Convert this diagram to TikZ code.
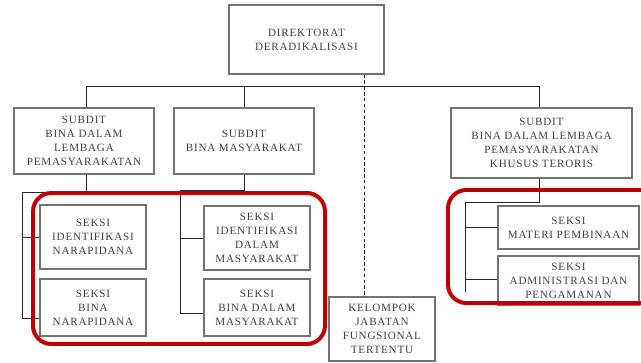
\documentclass[tikz,border=0pt]{standalone}
\usepackage{fontspec}
\setmainfont{Liberation Serif}[LetterSpace=7]
\usetikzlibrary{calc,shadows}

\tikzset{
  unitbox/.style={draw=black!55, line width=0.9pt, fill=white, inner sep=0pt,
    align=center, text=black!75, font=\fontsize{9.5}{12}\selectfont,
    drop shadow={shadow xshift=0.7pt, shadow yshift=-0.7pt, fill=black!45, opacity=0.7}},
  link/.style={draw=black!85, line width=0.7pt},
  hilite/.style={draw=redmark, line width=3.4pt, rounded corners=0.55cm}
}

\begin{document}
\begin{tikzpicture}[x=0.03cm, y=-0.03cm]

% Colors
\definecolor{redmark}{RGB}{192,0,0}

\useasboundingbox (0,0) rectangle (641,362);
\clip (0,0) rectangle (641,362);

% === Top ===
\node[unitbox, minimum width=4.65cm, minimum height=2.07cm] (dir) at (306.5,39.5)
  {DIREKTORAT\\DERADIKALISASI};

% === Subdit ===
\node[unitbox, minimum width=4.2cm, minimum height=1.98cm] (sub1) at (84,141)
  {SUBDIT\\BINA DALAM\\LEMBAGA\\PEMASYARAKATAN};
\node[unitbox, minimum width=4.2cm, minimum height=1.98cm] (sub2) at (244,141)
  {SUBDIT\\BINA MASYARAKAT};
\node[unitbox, minimum width=5.43cm, minimum height=2.1cm] (sub3) at (541.5,143)
  {SUBDIT\\BINA DALAM LEMBAGA\\PEMASYARAKATAN\\KHUSUS TERORIS};

% === Seksi ===
\node[unitbox, minimum width=3.18cm, minimum height=1.92cm] (s1a) at (93,237)
  {SEKSI\\IDENTIFIKASI\\NARAPIDANA};
\node[unitbox, minimum width=3.18cm, minimum height=1.71cm] (s1b) at (93,307.5)
  {SEKSI\\BINA\\NARAPIDANA};
\node[unitbox, minimum width=3.18cm, minimum height=1.92cm] (s2a) at (257,238)
  {SEKSI\\IDENTIFIKASI\\DALAM\\MASYARAKAT};
\node[unitbox, minimum width=3.18cm, minimum height=1.71cm] (s2b) at (257,307.5)
  {SEKSI\\BINA DALAM\\MASYARAKAT};
\node[unitbox, minimum width=4.23cm, minimum height=1.29cm] (s3a) at (568.5,227.5)
  {SEKSI\\MATERI PEMBINAAN};
\node[unitbox, minimum width=4.23cm, minimum height=1.47cm] (s3b) at (568.5,280.5)
  {SEKSI\\ADMINISTRASI DAN\\PENGAMANAN};

% === Kelompok ===
\node[unitbox, minimum width=3.18cm, minimum height=1.92cm] (kel) at (382,329)
  {KELOMPOK\\JABATAN\\FUNGSIONAL\\TERTENTU};

% === Lines ===
\coordinate (busL) at (86,86);
\coordinate (busR) at (539,86);
\draw[link] (busL) -- (busR);
\draw[link] (busL) -- (busL |- sub1.north);
\draw[link] (sub2.north |- busL) -- (sub2.north);
\draw[link] (busR) -- (busR |- sub3.north);

\coordinate (dtop) at (364,0);
\draw[link, densely dashed, line width=0.6pt] (dtop |- dir.south) -- (dtop |- kel.north);

% left column
\coordinate (l1) at (22,192);
\draw[link] (busL |- sub1.south) -- (busL |- l1) -- (l1) -- (22,318);
\draw[link] (l1 |- s1a.west) -- (s1a.west);
\draw[link] (22,318) -- (s1b.west |- 0,318);

% middle column
\coordinate (m1) at (180,190);
\draw[link] (sub2.south) -- (sub2.south |- m1) -- (m1) -- (180,313);
\draw[link] (m1 |- s2a.west) -- (s2a.west);
\draw[link] (180,313) -- (s2b.west |- 0,313);

% right column
\coordinate (r1) at (465,202);
\draw[link] (busR |- sub3.south) -- (busR |- r1) -- (r1) -- (465,292);
\draw[link] (r1 |- s3a.west) -- (s3a.west);
\draw[link] (r1 |- 0,279) -- (s3b.west |- 0,279);

% === Red marks ===
\draw[hilite] (33,193) rectangle (325,344);
\draw[hilite] (448,190) rectangle (665,303);

\end{tikzpicture}
\end{document}
